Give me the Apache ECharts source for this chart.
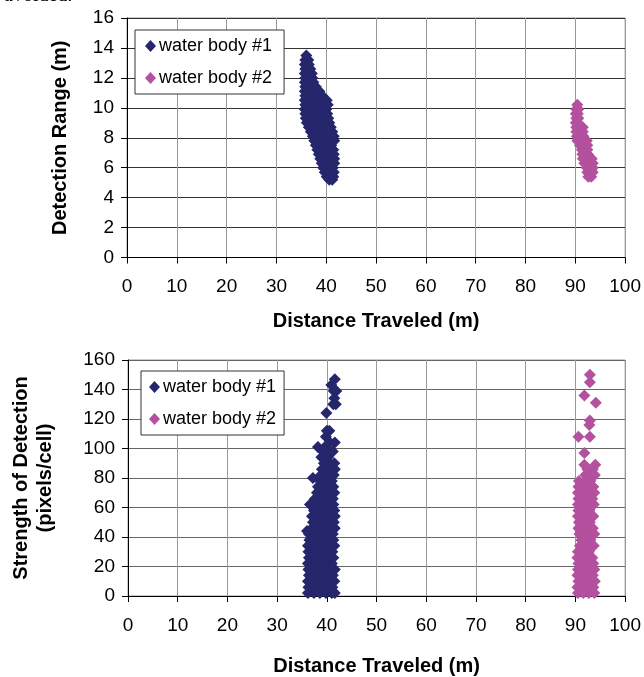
<!DOCTYPE html>
<html>
<head>
<meta charset="utf-8">
<script src="https://cdn.jsdelivr.net/npm/echarts@6/dist/echarts.min.js"></script>
<style>
  html, body { margin: 0; padding: 0; background: #fff; }
  #chart { width: 644px; height: 677px; }
</style>
</head>
<body>
<div id="chart"></div>
<script>
const NAMES = ['water body #1', 'water body #2'];
const xTicks = [0, 10, 20, 30, 40, 50, 60, 70, 80, 90, 100];

// detection range (m) vs distance travelled (m)
const rangeBody1 = [
  [36.0, 13.5],
  [35.8, 13.2], [36.4, 13.2],
  [35.7, 12.9], [36.5, 12.9],
  [35.8, 12.6], [36.8, 12.6],
  [35.7, 12.3], [36.6, 12.3], [37.1, 12.3],
  [35.8, 12.0], [36.7, 12.0], [37.2, 12.0],
  [35.7, 11.7], [36.6, 11.7], [37.4, 11.7],
  [35.8, 11.4], [36.8, 11.4], [37.9, 11.4],
  [35.7, 11.1], [36.7, 11.1], [37.8, 11.1], [38.6, 11.1],
  [35.8, 10.8], [36.9, 10.8], [38.0, 10.8], [39.2, 10.8],
  [35.7, 10.5], [36.8, 10.5], [37.9, 10.5], [39.0, 10.5], [40.1, 10.5],
  [35.8, 10.2], [36.9, 10.2], [38.0, 10.2], [39.1, 10.2], [40.3, 10.2],
  [35.7, 9.9], [36.8, 9.9], [37.9, 9.9], [39.0, 9.9], [40.0, 9.9],
  [35.8, 9.6], [36.9, 9.6], [38.0, 9.6], [39.2, 9.6], [40.2, 9.6],
  [35.9, 9.3], [37.0, 9.3], [38.1, 9.3], [39.3, 9.3], [40.4, 9.3],
  [36.1, 9.0], [37.2, 9.0], [38.3, 9.0], [39.4, 9.0], [40.6, 9.0],
  [36.5, 8.7], [37.5, 8.7], [38.6, 8.7], [39.7, 8.7], [40.9, 8.7],
  [36.9, 8.4], [37.9, 8.4], [39.0, 8.4], [40.1, 8.4], [41.2, 8.4],
  [37.3, 8.1], [38.3, 8.1], [39.4, 8.1], [40.5, 8.1], [41.5, 8.1],
  [37.6, 7.8], [38.6, 7.8], [39.7, 7.8], [40.8, 7.8], [41.6, 7.8],
  [37.9, 7.5], [38.9, 7.5], [40.0, 7.5], [41.0, 7.5],
  [38.2, 7.2], [39.2, 7.2], [40.3, 7.2], [41.4, 7.2],
  [38.5, 6.9], [39.5, 6.9], [40.5, 6.9], [41.5, 6.9],
  [38.8, 6.6], [39.8, 6.6], [40.8, 6.6], [41.6, 6.6],
  [39.1, 6.3], [40.1, 6.3], [41.1, 6.3], [41.6, 6.3],
  [39.4, 6.0], [40.3, 6.0], [41.3, 6.0],
  [39.7, 5.7], [40.6, 5.7], [41.5, 5.7],
  [40.1, 5.4], [40.9, 5.4], [41.4, 5.4],
  [40.6, 5.2], [41.2, 5.2]
];
const rangeBody2 = [
  [90.4, 10.2],
  [90.2, 9.9], [90.6, 9.9],
  [90.1, 9.6], [90.5, 9.6],
  [90.2, 9.3], [90.6, 9.3],
  [90.1, 9.0], [90.5, 9.0],
  [90.2, 8.7], [90.9, 8.7], [91.5, 8.7],
  [90.2, 8.4], [90.9, 8.4], [91.5, 8.4],
  [90.3, 8.1], [91.0, 8.1], [91.6, 8.1],
  [90.4, 7.8], [91.3, 7.8], [92.3, 7.8],
  [90.9, 7.5], [91.6, 7.5], [92.4, 7.5],
  [91.3, 7.2], [91.8, 7.2], [92.4, 7.2],
  [91.4, 6.9], [92.0, 6.9], [92.5, 6.9],
  [91.5, 6.6], [92.3, 6.6], [93.3, 6.6],
  [91.8, 6.3], [92.6, 6.3], [93.5, 6.3],
  [92.3, 6.0], [92.9, 6.0], [93.5, 6.0],
  [92.4, 5.7], [93.0, 5.7], [93.5, 5.7],
  [92.6, 5.4], [93.2, 5.4]
];

// strength of detection (pixels/cell) vs distance travelled (m)
const strengthBody1 = [
  [36.2, 2], [37.4, 2], [38.6, 2], [39.8, 2], [41.0, 2], [41.6, 2],
  [36.3, 6], [37.5, 6], [38.7, 6], [39.9, 6], [41.1, 6],
  [36.2, 10], [37.3, 10], [38.5, 10], [39.7, 10], [40.9, 10], [41.5, 10],
  [36.4, 14], [37.6, 14], [38.8, 14], [40.0, 14], [41.2, 14],
  [36.3, 18], [37.5, 18], [38.7, 18], [39.9, 18], [41.1, 18], [41.6, 18],
  [36.2, 22], [37.4, 22], [38.6, 22], [39.8, 22], [41.0, 22],
  [36.4, 26], [37.6, 26], [38.8, 26], [40.0, 26], [41.3, 26],
  [36.3, 30], [37.5, 30], [38.7, 30], [39.9, 30], [41.1, 30],
  [36.2, 34], [37.4, 34], [38.6, 34], [39.8, 34], [41.0, 34], [41.5, 34],
  [36.5, 38], [37.7, 38], [38.9, 38], [40.1, 38], [41.3, 38],
  [36.4, 42], [37.6, 42], [38.8, 42], [40.0, 42], [41.2, 42],
  [36.0, 44],
  [37.0, 46], [38.2, 46], [39.4, 46], [40.6, 46], [41.6, 46],
  [37.2, 50], [38.4, 50], [39.6, 50], [40.8, 50], [41.4, 50],
  [37.0, 54], [38.3, 54], [39.5, 54], [40.7, 54], [41.6, 54],
  [37.4, 58], [38.6, 58], [39.8, 58], [41.0, 58], [41.5, 58],
  [36.6, 62], [37.8, 62], [39.0, 62], [40.2, 62], [41.3, 62],
  [37.6, 66], [38.8, 66], [40.0, 66], [41.2, 66],
  [38.0, 70], [39.2, 70], [40.3, 70], [41.5, 70],
  [38.2, 74], [39.4, 74], [40.6, 74], [41.3, 74],
  [38.6, 78], [39.8, 78], [41.0, 78],
  [37.2, 80],
  [38.8, 82], [40.0, 82], [41.4, 82],
  [39.0, 86], [40.2, 86], [41.6, 86],
  [39.4, 90], [40.6, 90], [41.5, 90],
  [38.9, 94], [40.2, 94],
  [39.2, 98], [40.6, 98], [41.2, 98],
  [38.2, 101], [39.6, 101],
  [40.6, 104], [41.6, 104],
  [39.8, 108],
  [40.0, 112], [40.5, 112],
  [39.9, 124],
  [41.3, 130], [41.8, 130],
  [41.5, 134],
  [41.4, 139], [41.9, 139],
  [40.9, 143],
  [41.6, 147]
];
const strengthBody2 = [
  [90.5, 2], [91.6, 2], [92.7, 2], [93.8, 2],
  [90.4, 6], [91.5, 6], [92.6, 6], [93.6, 6],
  [90.6, 10], [91.7, 10], [92.8, 10], [93.9, 10],
  [90.4, 14], [91.5, 14], [92.6, 14], [93.5, 14],
  [90.5, 18], [91.6, 18], [92.7, 18], [93.8, 18],
  [90.6, 22], [91.7, 22], [92.8, 22], [93.6, 22],
  [90.4, 26], [91.5, 26], [92.6, 26], [93.4, 26],
  [90.5, 30], [91.6, 30], [92.7, 30],
  [90.9, 34], [91.9, 34], [92.9, 34], [93.7, 34],
  [91.2, 38], [92.2, 38], [93.0, 38],
  [90.8, 42], [91.8, 42], [92.8, 42], [93.8, 42],
  [90.6, 46], [91.7, 46], [92.8, 46], [93.5, 46],
  [90.7, 50], [91.8, 50], [92.9, 50],
  [90.5, 54], [91.6, 54], [92.7, 54], [93.6, 54],
  [90.6, 58], [91.7, 58], [92.8, 58],
  [90.5, 62], [91.6, 62], [92.7, 62], [93.7, 62],
  [90.6, 66], [91.7, 66], [92.8, 66], [93.4, 66],
  [90.5, 70], [91.6, 70], [92.7, 70], [93.8, 70],
  [90.6, 74], [91.8, 74], [92.9, 74], [93.6, 74],
  [90.7, 78], [91.9, 78], [93.0, 78],
  [92.0, 82], [93.2, 82], [93.9, 82],
  [92.4, 86], [93.5, 86],
  [91.8, 89], [94.0, 89],
  [91.8, 97],
  [90.6, 108], [92.9, 108],
  [92.8, 116],
  [92.9, 119],
  [94.1, 131],
  [91.8, 136],
  [92.9, 145],
  [92.9, 150]
];

const NAVY = '#26266c';
const PINK = '#b4519e';
const FONT = '"Liberation Sans", Arial, sans-serif';

const chart = echarts.init(document.getElementById('chart'));

function xAxisOf(gridIndex, nameGap) {
  return {
    gridIndex: gridIndex,
    type: 'value',
    min: xTicks[0],
    max: xTicks[xTicks.length - 1],
    interval: 10,
    name: 'Distance Traveled (m)',
    nameLocation: 'middle',
    nameGap: nameGap,
    nameTextStyle: { fontFamily: FONT, fontSize: 20, fontWeight: 'bold', color: '#000' },
    axisLine: { show: true, lineStyle: { color: '#000', width: 1 } },
    axisTick: { show: true, length: 6, lineStyle: { color: '#000' } },
    axisLabel: { fontFamily: FONT, fontSize: 19, color: '#000', margin: 20 },
    splitLine: { show: true, lineStyle: { color: '#999', width: 1 } }
  };
}

function yAxisOf(gridIndex, max, interval, name, nameGap, gridColor) {
  return {
    gridIndex: gridIndex,
    type: 'value',
    min: 0,
    max: max,
    interval: interval,
    name: name,
    nameLocation: 'middle',
    nameGap: nameGap,
    nameTextStyle: { fontFamily: FONT, fontSize: 20, fontWeight: 'bold', color: '#000', lineHeight: 24 },
    axisLine: { show: true, lineStyle: { color: '#000', width: 1 } },
    axisTick: { show: true, length: 6, lineStyle: { color: '#000' } },
    axisLabel: { fontFamily: FONT, fontSize: 19, color: '#000', margin: 13 },
    splitLine: { show: true, lineStyle: { color: gridColor, width: 1 } }
  };
}

function legendOf(left, top, padding) {
  return {
    left: left,
    top: top,
    orient: 'vertical',
    data: NAMES,
    icon: 'diamond',
    itemWidth: 11,
    itemHeight: 12,
    itemGap: 14,
    padding: padding,
    backgroundColor: '#fff',
    borderColor: '#333',
    borderWidth: 1,
    borderRadius: 0,
    selectedMode: false,
    textStyle: { fontFamily: FONT, fontSize: 18, color: '#000', lineHeight: 18, padding: [0, 0, 0, -2] }
  };
}

function scatter(name, color, xi, data) {
  return {
    name: name,
    type: 'scatter',
    xAxisIndex: xi,
    yAxisIndex: xi,
    symbol: 'diamond',
    symbolSize: 12,
    itemStyle: { color: color, opacity: 1 },
    data: data
  };
}

chart.setOption({
  animation: false,
  backgroundColor: '#fff',
  textStyle: { fontFamily: FONT },
  graphic: [{
    type: 'text',
    x: 4,
    y: -14,
    style: { text: 'avoided.', font: '20px "Liberation Serif", serif', fill: '#000' }
  }],
  grid: [
    { left: 127, right: 18.5, top: 18, height: 239.5, show: true, borderColor: '#999', borderWidth: 1 },
    { left: 128, right: 18.5, top: 360, height: 237, show: true, borderColor: '#999', borderWidth: 1 }
  ],
  legend: [
    legendOf(135, 30, [7, 12, 7, 10]),
    legendOf(141, 371, [7, 8, 7, 8])
  ],
  xAxis: [xAxisOf(0, 54), xAxisOf(1, 60)],
  yAxis: [
    yAxisOf(0, 16, 2, 'Detection Range (m)', 55, '#333'),
    yAxisOf(1, 160, 20, 'Strength of Detection\n(pixels/cell)', 71, '#666')
  ],
  series: [
    scatter(NAMES[0], NAVY, 0, rangeBody1),
    scatter(NAMES[1], PINK, 0, rangeBody2),
    scatter(NAMES[0], NAVY, 1, strengthBody1),
    scatter(NAMES[1], PINK, 1, strengthBody2)
  ]
});
</script>
</body>
</html>
